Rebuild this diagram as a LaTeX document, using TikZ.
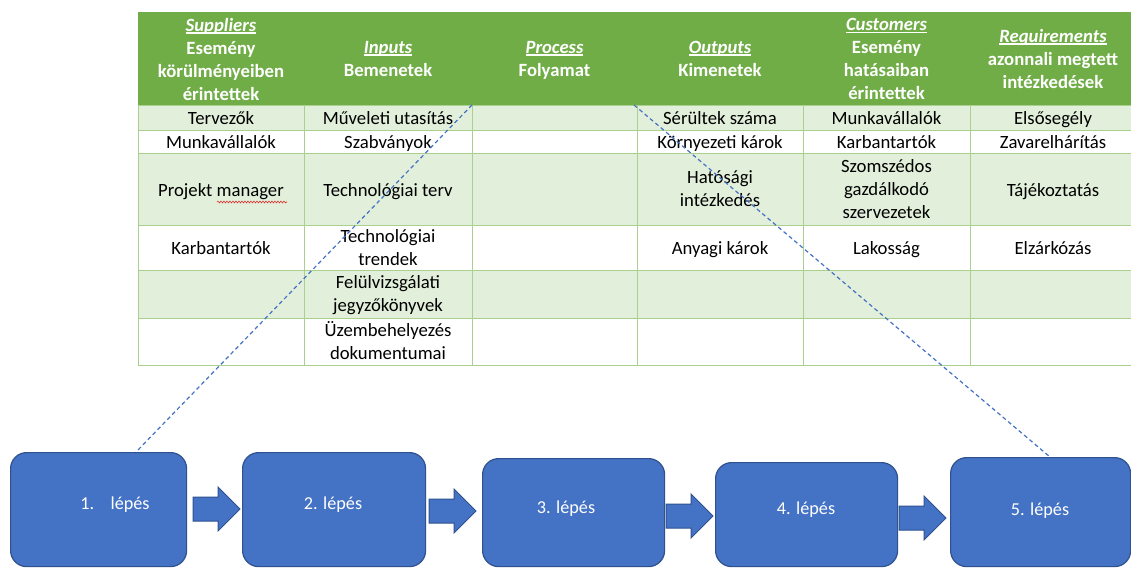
\documentclass[tikz,border=0pt]{standalone}
\usepackage{fontspec}
\setmainfont{Carlito}
\usetikzlibrary{decorations.pathmorphing}
\definecolor{hdrgreen}{HTML}{70AD47}
\definecolor{rowgreen}{HTML}{E2EFDA}
\definecolor{gridgreen}{HTML}{A9D08E}
\definecolor{stepblue}{HTML}{4472C4}
\definecolor{stepedge}{HTML}{2F528F}
\definecolor{spellred}{HTML}{E03030}

% underlined italic term in the header row
\newcommand{\hdterm}[1]{\setbox0\hbox{\itshape #1}\rlap{\rule[-2.6pt]{\wd0}{1.3pt}}\box0}

\begin{document}
\begin{tikzpicture}[x=1pt,y=-1pt,
  cell/.style={font=\fontsize{18.7}{23}\selectfont, align=center, inner sep=0pt, text=black,
               execute at begin node=\strut, execute at end node=\strut},
  head/.style={font=\fontsize{18.7}{23}\selectfont\bfseries, align=center, inner sep=0pt, text=white,
               execute at begin node=\strut, execute at end node=\strut},
  stepbox/.style={draw=stepedge, line width=1.2pt, fill=stepblue, rounded corners=16pt,
                  anchor=north west, inner sep=0pt},
  steplabel/.style={font=\fontsize{18.2}{22}\selectfont, text=white, inner sep=0pt,
               execute at begin node=\strut},
  link/.style={draw=stepblue, line width=1.2pt, dash pattern=on 4pt off 3pt},
  blockarrow/.pic={\filldraw[fill=stepblue, draw=stepedge, line width=1pt]
     (0,-12) -- (25,-12) -- (25,-22) -- (47,0) -- (25,22) -- (25,12) -- (0,12) -- cycle;}
]
\useasboundingbox[fill=white] (0,0) rectangle (1131,568);

% ---- table background ----
\fill[hdrgreen] (138,12) rectangle (1136,105);
\fill[rowgreen] (138,105) rectangle (1136,130);
\fill[rowgreen] (138,153) rectangle (1136,225);
\fill[rowgreen] (138,270) rectangle (1136,318);
\foreach \y in {105,130,153,225,270,318,365}
  \draw[gridgreen, line width=1pt] (138,\y) -- (1136,\y);
\foreach \x in {138,304,472,637,803,970}
  \draw[gridgreen, line width=1pt] (\x,105) -- (\x,365);

% ---- header row ----
\node[head] (hS) at (221,62.5) {\hdterm{Suppliers}\\Esemény\\körülményeiben\\érintettek};
\node[head] (hI) at (388,62) {\hdterm{Inputs}\\Bemenetek};
\node[head] (hP) at (554.5,62) {\hdterm{Process}\\Folyamat};
\node[head] (hO) at (720,62) {\hdterm{Outputs}\\Kimenetek};
\node[head] (hC) at (886.5,62.5) {\hdterm{Customers}\\Esemény\\hatásaiban\\érintettek};
\node[head] (hR) at (1053,62) {\hdterm{Requirements}\\azonnali megtett\\intézkedések};

% ---- suppliers ----
\node[cell] (s-r1) at (221,119.5) {Tervezők};
\node[cell] (s-r2) at (221,143.5) {Munkavállalók};
\node[cell] (s-r3) at (221,192) {Projekt manager};
\node[cell] (s-r4) at (221,250) {Karbantartók};
\draw[spellred, line width=0.6pt, decorate,
      decoration={snake, amplitude=0.9pt, segment length=3pt}] (217,202) -- (287,202);

% ---- inputs ----
\node[cell] (i-r1) at (388,119.5) {Műveleti utasítás};
\node[cell] (i-r2) at (388,143.5) {Szabványok};
\node[cell] (i-r3) at (388,192) {Technológiai terv};
\node[cell] (i-r4) at (388,250.5) {Technológiai\\trendek};
\node[cell] (i-r5) at (388,297) {Felülvizsgálati\\jegyzőkönyvek};
\node[cell] (i-r6) at (388,343.5) {Üzembehelyezés\\dokumentumai};

% ---- outputs ----
\node[cell] (o-r1) at (720,119.5) {Sérültek száma};
\node[cell] (o-r2) at (720,143.5) {Környezeti károk};
\node[cell] (o-r3) at (720,192) {Hatósági\\intézkedés};
\node[cell] (o-r4) at (720,250) {Anyagi károk};

% ---- customers ----
\node[cell] (c-r1) at (886.5,119.5) {Munkavállalók};
\node[cell] (c-r2) at (886.5,143.5) {Karbantartók};
\node[cell] (c-r3) at (886.5,192) {Szomszédos\\gazdálkodó\\szervezetek};
\node[cell] (c-r4) at (886.5,250) {Lakosság};

% ---- requirements ----
\node[cell] (r-r1) at (1053,119.5) {Elsősegély};
\node[cell] (r-r2) at (1053,143.5) {Zavarelhárítás};
\node[cell] (r-r3) at (1053,192) {Tájékoztatás};
\node[cell] (r-r4) at (1053,250) {Elzárkózás};

% ---- process steps ----
\node[stepbox, minimum width=176, minimum height=114] (s1) at (10,452) {};
\node[stepbox, minimum width=183, minimum height=114] (s2) at (242,452) {};
\node[stepbox, minimum width=182, minimum height=108] (s3) at (482,458) {};
\node[stepbox, minimum width=182, minimum height=104] (s4) at (715,462) {};
\node[stepbox, minimum width=180, minimum height=109] (s5) at (950,457) {};

\node[steplabel] (l1) at (115,505) {1.\hspace{0.9em}lépés};
\node[steplabel] (l2) at (333,505) {2. lépés};
\node[steplabel] (l3) at (566,509) {3. lépés};
\node[steplabel] (l4) at (806,510) {4. lépés};
\node[steplabel] (l5) at (1040,511) {5. lépés};

\pic (a1) at (193,509) {blockarrow};
\pic (a2) at (429,511) {blockarrow};
\pic (a3) at (666,516) {blockarrow};
\pic (a4) at (899,518) {blockarrow};

% ---- dashed links from the process column to the first and last step ----
\coordinate (t1) at (472,105);
\coordinate (t2) at (634,105);
\coordinate (e1) at (136,452);
\coordinate (e5) at (1050,457);
\draw[link] (t1) -- (e1);
\draw[link] (t2) -- (e5);
\end{tikzpicture}
\end{document}
